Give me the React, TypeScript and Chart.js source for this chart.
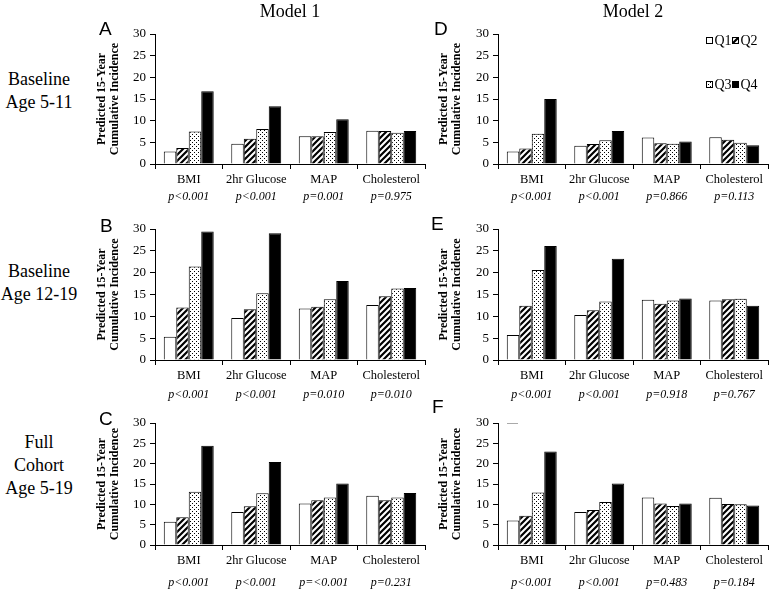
import React, { useEffect, useRef } from "react";
import { Chart, registerables } from "chart.js";
Chart.register(...registerables);

const SERIF = "'Liberation Serif', 'Times New Roman', serif";
const SANS = "'Liberation Sans', Arial, sans-serif";

const categories = ["BMI", "2hr Glucose", "MAP", "Cholesterol"];
const quartiles = ["Q1", "Q2", "Q3", "Q4"];
const yMin = 0;
const yMax = 30;
const yStep = 5;
const yTitle = ["Predicted 15-Year", "Cumulative Incidence"];
const modelTitles = ["Model 1", "Model 2"];
const rowTitles = [["Baseline", "Age 5-11"], ["Baseline", "Age 12-19"], ["Full", "Cohort", "Age 5-19"]];

// Panel A: Model 1, baseline age 5-11
const A_Q1 = [2.9, 4.7, 6.4, 7.7];
const A_Q2 = [3.7, 5.8, 6.4, 7.6];
const A_Q3 = [7.5, 8.1, 7.4, 7.2];
const A_Q4 = [16.8, 13.3, 10.3, 7.6];
const A_P = ["p<0.001", "p<0.001", "p=0.001", "p=0.975"];

// Panel B: Model 1, baseline age 12-19
const B_Q1 = [5.3, 9.6, 11.8, 12.6];
const B_Q2 = [12.0, 11.6, 12.2, 14.6];
const B_Q3 = [21.4, 15.3, 13.9, 16.4];
const B_Q4 = [29.4, 29.0, 18.1, 16.5];
const B_P = ["p<0.001", "p<0.001", "p=0.010", "p=0.010"];

// Panel C: Model 1, full cohort
const C_Q1 = [5.7, 8.1, 10.2, 12.1];
const C_Q2 = [6.8, 9.5, 11.0, 11.0];
const C_Q3 = [13.1, 12.7, 11.7, 11.7];
const C_Q4 = [24.4, 20.4, 15.1, 12.8];
const C_P = ["p<0.001", "p<0.001", "p=<0.001", "p=0.231"];

// Panel D: Model 2, baseline age 5-11
const D_Q1 = [2.9, 4.2, 6.1, 6.2];
const D_Q2 = [3.6, 4.6, 4.8, 5.6];
const D_Q3 = [7.0, 5.5, 4.7, 4.9];
const D_Q4 = [15.0, 7.6, 5.2, 4.3];
const D_P = ["p<0.001", "p<0.001", "p=0.866", "p=0.113"];

// Panel E: Model 2, baseline age 12-19
const E_Q1 = [5.7, 10.3, 13.8, 13.6];
const E_Q2 = [12.4, 11.4, 12.9, 13.9];
const E_Q3 = [20.6, 13.4, 13.6, 14.0];
const E_Q4 = [26.1, 23.2, 14.1, 12.4];
const E_P = ["p<0.001", "p<0.001", "p=0.918", "p=0.767"];

// Panel F: Model 2, full cohort
const F_Q1 = [6.0, 8.1, 11.7, 11.6];
const F_Q2 = [7.2, 8.6, 10.2, 10.1];
const F_Q3 = [12.9, 10.6, 9.6, 10.0];
const F_Q4 = [23.0, 15.1, 10.2, 9.7];
const F_P = ["p<0.001", "p<0.001", "p=0.483", "p=0.184"];

function makeHatch(): CanvasPattern | string {
  const c = document.createElement("canvas");
  const s = 6;
  c.width = s;
  c.height = s;
  const g = c.getContext("2d");
  if (!g) return "#888";
  g.fillStyle = "#fff";
  g.fillRect(0, 0, s, s);
  g.strokeStyle = "#000";
  g.lineWidth = 2.2;
  g.beginPath();
  g.moveTo(-1, s + 1);
  g.lineTo(s + 1, -1);
  g.moveTo(-s / 2 - 1, s / 2 + 1);
  g.lineTo(s / 2 + 1, -s / 2 - 1);
  g.moveTo(s / 2 - 1, s * 1.5 + 1);
  g.lineTo(s * 1.5 + 1, s / 2 - 1);
  g.stroke();
  return g.createPattern(c, "repeat") || "#888";
}

function makeDots(): CanvasPattern | string {
  const c = document.createElement("canvas");
  const s = 4;
  c.width = s;
  c.height = s;
  const g = c.getContext("2d");
  if (!g) return "#ccc";
  g.fillStyle = "#fff";
  g.fillRect(0, 0, s, s);
  g.fillStyle = "#000";
  g.fillRect(0, 0, 1, 1);
  g.fillRect(2, 2, 1, 1);
  return g.createPattern(c, "repeat") || "#ccc";
}

const pvalPlugin = {
  id: "pvals",
  afterDraw(chart: any, _args: any, opts: any) {
    const labels: string[] = opts.labels || [];
    const xs = chart.scales.x;
    const ctx = chart.ctx;
    ctx.save();
    ctx.font = `italic 12px ${SERIF}`;
    ctx.fillStyle = "#000";
    ctx.textAlign = "center";
    ctx.textBaseline = "middle";
    labels.forEach((t, i) => {
      ctx.fillText(t, xs.getPixelForValue(i), chart.chartArea.bottom + opts.offset);
    });
    ctx.restore();
  },
};

const quadLegendPlugin = {
  id: "quadLegend",
  afterDraw(chart: any, _args: any, opts: any) {
    if (!opts.show) return;
    const ctx = chart.ctx;
    const a = chart.chartArea;
    const spots = [
      [208, 3],
      [234, 3],
      [208, 47],
      [234, 47],
    ];
    ctx.save();
    ctx.font = `14px ${SERIF}`;
    ctx.textBaseline = "middle";
    ctx.textAlign = "left";
    chart.data.datasets.forEach((ds: any, i: number) => {
      const x = Math.round(a.left + spots[i][0]) + 0.5;
      const y = Math.round(a.top + spots[i][1]) + 0.5;
      ctx.fillStyle = ds.backgroundColor;
      ctx.fillRect(x, y, 6, 6);
      ctx.strokeStyle = "#000";
      ctx.lineWidth = 1;
      ctx.strokeRect(x, y, 6, 6);
      ctx.fillStyle = "#000";
      ctx.fillText(ds.label, x + 8, y + 3.5);
    });
    ctx.restore();
  },
};

type PanelProps = {
  left: number;
  top: number;
  width: number;
  height: number;
  yWidth: number;
  series: number[][];
  pvals: string[];
  pOffset: number;
  legend?: boolean;
};

function Panel(props: PanelProps) {
  const ref = useRef<HTMLCanvasElement | null>(null);
  useEffect(() => {
    if (!ref.current) return;
    const fills = ["#ffffff", makeHatch(), makeDots(), "#000000"];
    const chart = new Chart(ref.current, {
      type: "bar",
      data: {
        labels: categories,
        datasets: props.series.map((d, i) => ({
          label: quartiles[i],
          data: d,
          backgroundColor: fills[i] as any,
          borderColor: "#000",
          borderWidth: 1,
          barPercentage: 1,
          categoryPercentage: 0.74,
        })),
      },
      options: {
        responsive: false,
        animation: false,
        devicePixelRatio: 1,
        layout: { padding: { top: 14, right: 5, bottom: 0, left: 0 } },
        plugins: {
          legend: { display: false },
          tooltip: { enabled: false },
          pvals: { labels: props.pvals, offset: props.pOffset },
          quadLegend: { show: !!props.legend },
        } as any,
        scales: {
          x: {
            type: "category",
            offset: true,
            grid: {
              display: true,
              drawOnChartArea: false,
              drawTicks: true,
              tickLength: 5,
              color: "#000",
              lineWidth: 1,
              offset: true,
            },
            border: { display: true, color: "#000", width: 1 },
            ticks: {
              color: "#000",
              font: { family: SERIF, size: 12.5 },
              padding: 3,
              maxRotation: 0,
              autoSkip: false,
            },
            afterFit: (s: any) => {
              s.height = 46;
            },
          },
          y: {
            min: yMin,
            max: yMax,
            ticks: {
              stepSize: yStep,
              color: "#000",
              font: { family: SERIF, size: 13 },
              padding: 4,
            },
            grid: {
              display: true,
              drawOnChartArea: false,
              drawTicks: true,
              tickLength: 5,
              color: "#000",
            },
            border: { display: true, color: "#000", width: 1 },
            title: {
              display: true,
              text: yTitle,
              color: "#000",
              font: { family: SERIF, size: 12, weight: "bold", lineHeight: 1.1 },
              padding: { top: 5, bottom: 0 },
            },
            afterFit: (s: any) => {
              s.width = props.yWidth;
            },
          },
        },
      } as any,
      plugins: [pvalPlugin, quadLegendPlugin],
    });
    return () => chart.destroy();
  }, []);
  return (
    <div style={{ position: "absolute", left: props.left, top: props.top, width: props.width, height: props.height }}>
      <canvas ref={ref} width={props.width} height={props.height} style={{ display: "block" }} />
    </div>
  );
}

const textBase: React.CSSProperties = {
  position: "absolute",
  fontFamily: SERIF,
  color: "#000",
  whiteSpace: "nowrap",
};

export default function App() {
  const rows = [
    { top: 20, height: 190, pOffset: 33 },
    { top: 215, height: 191, pOffset: 35 },
    { top: 409, height: 182, pOffset: 38 },
  ];
  const leftSeries = [
    [A_Q1, A_Q2, A_Q3, A_Q4],
    [B_Q1, B_Q2, B_Q3, B_Q4],
    [C_Q1, C_Q2, C_Q3, C_Q4],
  ];
  const rightSeries = [
    [D_Q1, D_Q2, D_Q3, D_Q4],
    [E_Q1, E_Q2, E_Q3, E_Q4],
    [F_Q1, F_Q2, F_Q3, F_Q4],
  ];
  const leftP = [A_P, B_P, C_P];
  const rightP = [D_P, E_P, F_P];
  const leftLetters = [
    { t: "A", x: 99, base: 35 },
    { t: "B", x: 100, base: 232 },
    { t: "C", x: 99, base: 425 },
  ];
  const rightLetters = [
    { t: "D", x: 434, base: 35 },
    { t: "E", x: 431, base: 230 },
    { t: "F", x: 432, base: 413 },
  ];
  const rowLabelTops = [68, 260, 431];

  return (
    <div style={{ position: "absolute", left: 0, top: 0, width: 777, height: 591, background: "#fff", overflow: "hidden" }}>
      {rows.map((r, i) => (
        <Panel
          key={"L" + i}
          left={90}
          top={r.top}
          width={340}
          height={r.height}
          yWidth={65}
          series={leftSeries[i]}
          pvals={leftP[i]}
          pOffset={r.pOffset}
        />
      ))}
      {rows.map((r, i) => (
        <Panel
          key={"R" + i}
          left={432}
          top={r.top}
          width={341}
          height={r.height}
          yWidth={66}
          series={rightSeries[i]}
          pvals={rightP[i]}
          pOffset={r.pOffset}
          legend={i === 0}
        />
      ))}
      <div style={{ ...textBase, left: 190, width: 200, top: 0, fontSize: 18, lineHeight: "22px", textAlign: "center" }}>
        {modelTitles[0]}
      </div>
      <div style={{ ...textBase, left: 533, width: 200, top: 0, fontSize: 18, lineHeight: "22px", textAlign: "center" }}>
        {modelTitles[1]}
      </div>
      {rowTitles.map((lines, i) => (
        <div
          key={"rt" + i}
          style={{ ...textBase, left: 0, width: 78, top: rowLabelTops[i], fontSize: 18, lineHeight: "23px", textAlign: "center" }}
        >
          {lines.map((l, j) => (
            <div key={j}>{l}</div>
          ))}
        </div>
      ))}
      {[...leftLetters, ...rightLetters].map((L) => (
        <div
          key={L.t}
          style={{ ...textBase, fontFamily: SANS, fontSize: 19, lineHeight: "19px", left: L.x, top: L.base - 16 }}
        >
          {L.t}
        </div>
      ))}
      <div style={{ position: "absolute", left: 507, top: 423, width: 11, height: 1, background: "#aaa" }} />
    </div>
  );
}
